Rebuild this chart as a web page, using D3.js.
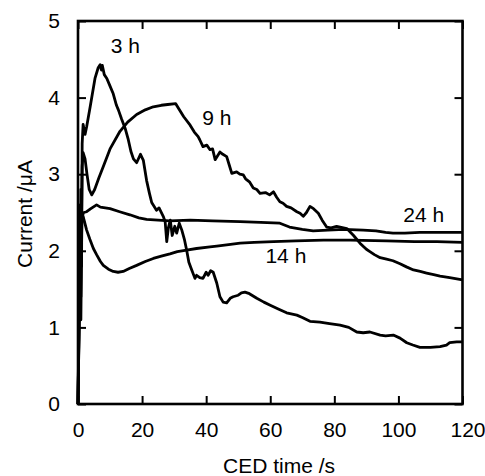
<!DOCTYPE html>
<html lang="en">
<head>
<meta charset="UTF-8">
<title>CED current</title>
<script src="https://cdn.jsdelivr.net/npm/d3@7"></script>
<style>
  body { margin: 0; background: #fff; }
  svg { display: block; }
  text { font-family: "Liberation Sans", Arial, sans-serif; font-size: 21px; fill: #000; }
  .line { fill: none; stroke: #000; stroke-width: 2.8; stroke-linejoin: round; }
  .tick line { stroke: #000; stroke-width: 2; }
</style>
</head>
<body>
<script>
// x = CED time (s), y = current (uA)
const xTicks = [0, 20, 40, 60, 80, 100, 120];
const yTicks = [0, 1, 2, 3, 4, 5];

const h3 = [[0,0],[0.3,1.0],[0.5,2.2],[0.7,1.3],[0.9,2.8],[1.1,1.8],[1.3,3.4],[1.6,3.65],[2.2,3.52],[2.7,3.62],
  [3.8,3.88],[5.3,4.25],[6.3,4.39],[6.9,4.43],[7.3,4.36],[7.6,4.42],[8.2,4.3],[9,4.25],[10,4.15],[11,4.05],
  [12,3.9],[12.6,3.84],[13.6,3.72],[14.7,3.6],[15.7,3.45],[16.5,3.3],[17.3,3.2],[18.3,3.15],[19.5,3.26],[20.4,3.18],
  [21.4,2.92],[22.3,2.75],[23,2.63],[24.5,2.53],[25.3,2.56],[26.6,2.45],[27.2,2.38],[27.7,2.12],[28.2,2.3],[28.8,2.4],
  [29.4,2.2],[30.2,2.32],[30.8,2.23],[31.6,2.36],[32.4,2.27],[33.2,2.15],[33.9,2.01],[34.6,1.85],[35.5,1.75],[36.5,1.64],
  [37,1.68],[38,1.65],[39,1.64],[40,1.72],[40.6,1.68],[41.4,1.74],[42.2,1.72],[43.3,1.58],[44.3,1.4],[45.3,1.33],
  [46.4,1.32],[47.5,1.38],[48.4,1.4],[50,1.42],[51,1.45],[52.1,1.46],[53.5,1.44],[55.8,1.38],[58,1.33],[60,1.29],
  [62.5,1.24],[65.1,1.19],[68.3,1.16],[70,1.13],[72.4,1.08],[75.5,1.07],[78.5,1.05],[81.8,1.03],[84.5,1.0],[87,0.94],
  [89,0.93],[91.1,0.94],[94.3,0.9],[96,0.89],[98.4,0.9],[100.5,0.86],[102.6,0.8],[104.5,0.77],[106.7,0.74],[110,0.74],
  [113,0.75],[115,0.77],[116,0.8],[118.2,0.81],[120,0.81]];

const h9 = [[0,0],[0.4,1.2],[0.7,2.6],[1.0,2.0],[1.3,3.1],[1.6,3.28],[2.2,3.2],[2.8,3.0],[3.5,2.8],[4.3,2.73],
  [5.2,2.8],[6.5,2.95],[7.9,3.1],[10,3.33],[13.1,3.56],[15.5,3.68],[18.3,3.78],[21,3.84],[23.5,3.88],[26,3.9],
  [28,3.91],[30.5,3.92],[31.5,3.85],[33,3.75],[35,3.64],[36.3,3.55],[37.5,3.49],[38,3.45],[39,3.36],[40.2,3.38],
  [41.2,3.32],[42,3.33],[42.8,3.19],[44.3,3.29],[45.2,3.26],[46.4,3.23],[47.2,3.12],[48,3.01],[49.5,3.03],[50.5,3.0],
  [51.6,2.99],[52.3,2.94],[53.5,2.9],[54.7,2.82],[55.8,2.8],[56.8,2.75],[58.5,2.76],[59.8,2.73],[61,2.77],[62,2.7],
  [63,2.64],[64,2.62],[65.1,2.58],[66.5,2.56],[68.3,2.51],[69.3,2.49],[70.3,2.45],[71.3,2.5],[72.4,2.58],[73.5,2.55],
  [75,2.49],[76.2,2.4],[77.6,2.31],[79,2.3],[80.7,2.32],[81.8,2.31],[83.9,2.29],[86,2.2],[88,2.1],[90,2.02],
  [91.1,1.99],[92.5,1.95],[94.3,1.91],[96.3,1.89],[98.3,1.87],[100.5,1.83],[102.5,1.79],[104.7,1.75],[106.8,1.73],[108.8,1.71],
  [111,1.69],[113,1.67],[116,1.65],[120,1.62]];

const h14 = [[0,0],[0.3,1.1],[0.6,2.3],[0.9,1.4],[1.2,2.5],[1.6,2.45],[2.7,2.27],[3.7,2.15],[4.8,2.03],[5.8,1.95],
  [7,1.86],[7.9,1.81],[9.5,1.76],[11,1.73],[12.5,1.72],[14.1,1.73],[16,1.77],[18.3,1.81],[21,1.86],[23.5,1.9],
  [26,1.93],[28.7,1.96],[31,1.99],[33.9,2.01],[37,2.03],[41.2,2.05],[43.3,2.06],[47,2.08],[50.6,2.1],[55,2.11],
  [61,2.12],[68,2.13],[76.6,2.14],[85,2.14],[96.3,2.13],[105,2.12],[112,2.12],[120,2.11]];

const h24 = [[0,0],[0.3,0.9],[0.6,2.0],[0.9,1.1],[1.2,2.45],[1.8,2.5],[2.7,2.51],[4,2.55],[5.8,2.6],[7,2.57],
  [10,2.55],[13,2.51],[16.2,2.47],[19,2.43],[21.4,2.41],[25,2.4],[28.7,2.39],[35,2.4],[42,2.39],[50.6,2.38],
  [57,2.37],[63,2.36],[66,2.31],[70,2.28],[73.4,2.26],[78,2.27],[83,2.28],[89,2.27],[93,2.26],[96,2.24],
  [98.3,2.23],[102,2.23],[106.7,2.24],[112,2.24],[120,2.24]];

const seriesNames = ["3 h", "9 h", "14 h", "24 h"];
const labelPos = [[10.2, 4.58], [38.8, 3.64], [58.5, 1.84], [101.5, 2.37]];

const W = 485, H = 476;
const x = d3.scaleLinear().domain([0, 120]).range([78, 462.5]);
const y = d3.scaleLinear().domain([0, 5]).range([404, 21]);

const svg = d3.select("body").append("svg").attr("width", W).attr("height", H);

// curves
const line = d3.line().x(d => x(d[0])).y(d => y(d[1]));
svg.selectAll("path.line")
  .data([h3, h9, h14, h24])
  .enter().append("path")
  .attr("class", "line")
  .attr("d", line);

// axes, ticks pointing inward on all four sides
const fmt = d3.format("d");
const bottom = svg.append("g").attr("transform", "translate(0," + y(0) + ")")
  .call(d3.axisBottom(x).tickValues(xTicks).tickFormat(fmt).tickSizeInner(-8).tickSizeOuter(0).tickPadding(18));
const left = svg.append("g").attr("transform", "translate(" + x(0) + ",0)")
  .call(d3.axisLeft(y).tickValues(yTicks).tickFormat(fmt).tickSizeInner(-8).tickSizeOuter(0).tickPadding(18));
svg.append("g").attr("transform", "translate(0," + y(5) + ")")
  .call(d3.axisTop(x).tickValues(xTicks).tickSizeInner(-8).tickSizeOuter(0).tickFormat(""));
svg.append("g").attr("transform", "translate(" + x(120) + ",0)")
  .call(d3.axisRight(y).tickValues(yTicks).tickSizeInner(-8).tickSizeOuter(0).tickFormat(""));

svg.selectAll(".domain").remove();
bottom.selectAll(".tick text").filter(d => d === 120).attr("dx", 5);

// frame
svg.append("rect")
  .attr("x", x(0)).attr("y", y(5))
  .attr("width", x(120) - x(0)).attr("height", y(0) - y(5))
  .attr("fill", "none").attr("stroke", "#000").attr("stroke-width", 2.6);

// series labels
svg.selectAll("text.lab")
  .data(seriesNames)
  .enter().append("text")
  .attr("class", "lab")
  .attr("x", (d, i) => x(labelPos[i][0]))
  .attr("y", (d, i) => y(labelPos[i][1]))
  .text(d => d);

// axis titles
svg.append("text")
  .attr("x", 279).attr("y", 473)
  .attr("text-anchor", "middle")
  .text("CED time /s");
svg.append("text")
  .attr("transform", "translate(32,214) rotate(-90)")
  .attr("text-anchor", "middle")
  .text("Current /\u03bcA");
</script>
</body>
</html>
